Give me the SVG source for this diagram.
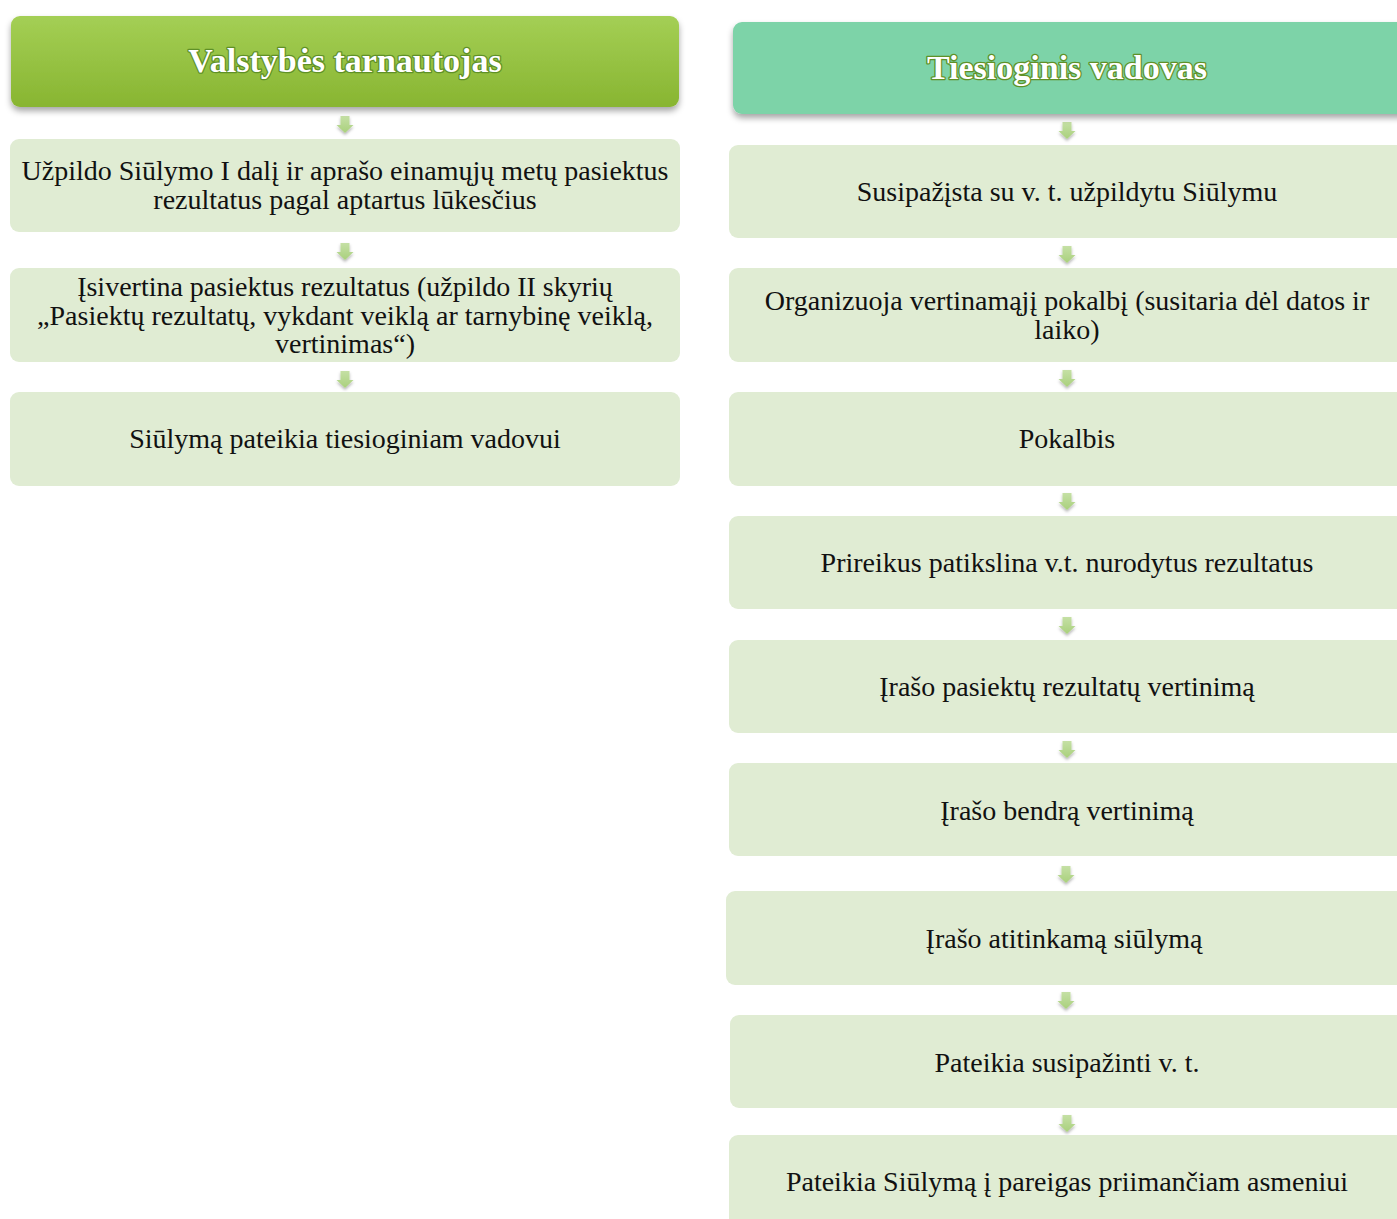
<svg xmlns="http://www.w3.org/2000/svg" width="1397" height="1219" viewBox="0 0 1397 1219">
<style>
.box{fill:#e0ecd3;}
.t{font-family:"Liberation Serif","Times New Roman",serif;font-size:28px;fill:#111;text-anchor:middle;}
.h{font-family:"Liberation Serif","Times New Roman",serif;font-size:34px;font-weight:bold;fill:#fff;stroke:#5f9127;stroke-width:2.6;stroke-linejoin:round;paint-order:stroke;text-anchor:middle;}
.arr{fill:url(#ag);filter:url(#as);}
</style>
<defs>
<linearGradient id="lg" x1="0" y1="0" x2="0" y2="1">
<stop offset="0" stop-color="#a4cf55"/>
<stop offset="1" stop-color="#88b531"/>
</linearGradient>
<linearGradient id="ag" x1="0" y1="0" x2="0" y2="1">
<stop offset="0" stop-color="#c5e0a5"/>
<stop offset="1" stop-color="#a9d07c"/>
</linearGradient>
<filter id="hs" x="-5%" y="-20%" width="110%" height="150%">
<feDropShadow dx="0" dy="4" stdDeviation="3" flood-color="#000" flood-opacity="0.35"/>
</filter>
<filter id="as" x="-50%" y="-50%" width="200%" height="200%">
<feDropShadow dx="0" dy="2" stdDeviation="1.5" flood-color="#000" flood-opacity="0.3"/>
</filter>
<path id="ar" d="M-4.5,0 H4.5 V9 H8.5 L0,17 L-8.5,9 H-4.5 Z"/>
</defs>

<g id="connectors">
<use href="#ar" class="arr" x="345" y="116"/>
<use href="#ar" class="arr" x="345" y="243"/>
<use href="#ar" class="arr" x="345" y="371"/>
<use href="#ar" class="arr" x="1067" y="122"/>
<use href="#ar" class="arr" x="1067" y="246"/>
<use href="#ar" class="arr" x="1067" y="370"/>
<use href="#ar" class="arr" x="1067" y="493"/>
<use href="#ar" class="arr" x="1067" y="617"/>
<use href="#ar" class="arr" x="1067" y="741"/>
<use href="#ar" class="arr" x="1066" y="866"/>
<use href="#ar" class="arr" x="1066" y="992"/>
<use href="#ar" class="arr" x="1067" y="1115"/>
</g>

<g id="hdr-left">
<rect x="11" y="16" width="668" height="91" rx="9" fill="url(#lg)" filter="url(#hs)"/>
<text class="h" x="345" y="72">Valstybės tarnautojas</text>
</g>
<g id="left-1">
<rect class="box" x="10" y="139" width="670" height="93" rx="9"/>
<text class="t" x="345" y="180">Užpildo Siūlymo I dalį ir aprašo einamųjų metų pasiektus</text>
<text class="t" x="345" y="209">rezultatus pagal aptartus lūkesčius</text>
</g>
<g id="left-2">
<rect class="box" x="10" y="268" width="670" height="94" rx="9"/>
<text class="t" x="345" y="296">Įsivertina pasiektus rezultatus (užpildo II skyrių</text>
<text class="t" x="345" y="325">„Pasiektų rezultatų, vykdant veiklą ar tarnybinę veiklą,</text>
<text class="t" x="345" y="353">vertinimas“)</text>
</g>
<g id="left-3">
<rect class="box" x="10" y="392" width="670" height="94" rx="9"/>
<text class="t" x="345" y="448">Siūlymą pateikia tiesioginiam vadovui</text>
</g>

<g id="hdr-right">
<rect x="733" y="22" width="680" height="92" rx="9" fill="#7dd3a8" filter="url(#hs)"/>
<text class="h" x="1067" y="79">Tiesioginis vadovas</text>
</g>
<g id="right-1">
<rect class="box" x="729" y="145" width="684" height="93" rx="9"/>
<text class="t" x="1067" y="201">Susipažįsta su v. t. užpildytu Siūlymu</text>
</g>
<g id="right-2">
<rect class="box" x="729" y="268" width="684" height="94" rx="9"/>
<text class="t" x="1067" y="310">Organizuoja vertinamąjį pokalbį (susitaria dėl datos ir</text>
<text class="t" x="1067" y="339">laiko)</text>
</g>
<g id="right-3">
<rect class="box" x="729" y="392" width="684" height="94" rx="9"/>
<text class="t" x="1067" y="448">Pokalbis</text>
</g>
<g id="right-4">
<rect class="box" x="729" y="516" width="684" height="93" rx="9"/>
<text class="t" x="1067" y="572">Prireikus patikslina v.t. nurodytus rezultatus</text>
</g>
<g id="right-5">
<rect class="box" x="729" y="640" width="684" height="93" rx="9"/>
<text class="t" x="1067" y="696">Įrašo pasiektų rezultatų vertinimą</text>
</g>
<g id="right-6">
<rect class="box" x="729" y="763" width="684" height="93" rx="9"/>
<text class="t" x="1067" y="820">Įrašo bendrą vertinimą</text>
</g>
<g id="right-7">
<rect class="box" x="726" y="891" width="687" height="94" rx="9"/>
<text class="t" x="1064" y="948">Įrašo atitinkamą siūlymą</text>
</g>
<g id="right-8">
<rect class="box" x="730" y="1015" width="683" height="93" rx="9"/>
<text class="t" x="1067" y="1072">Pateikia susipažinti v. t.</text>
</g>
<g id="right-9">
<rect class="box" x="729" y="1135" width="684" height="100" rx="9"/>
<text class="t" x="1067" y="1191">Pateikia Siūlymą į pareigas priimančiam asmeniui</text>
</g>
</svg>
